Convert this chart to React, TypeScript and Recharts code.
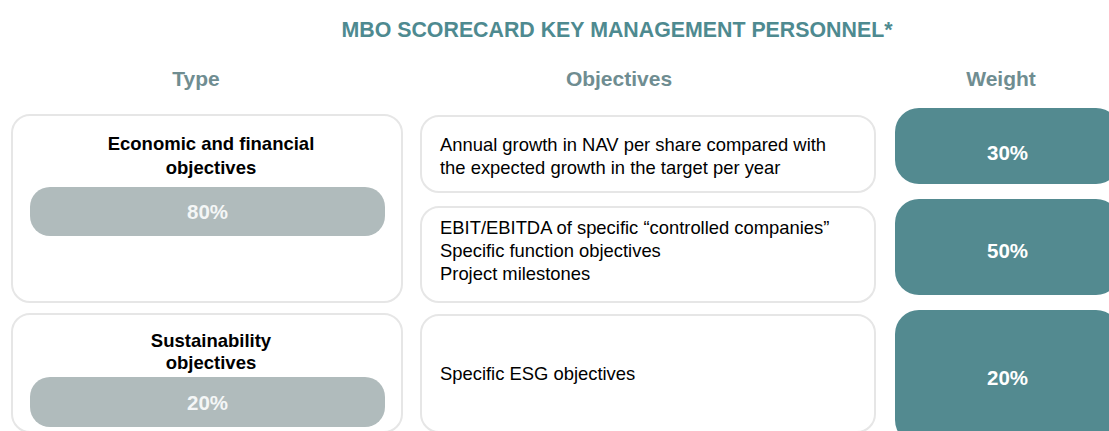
import React from 'react';
import { ScatterChart, Scatter, XAxis, YAxis, ReferenceArea, Rectangle } from 'recharts';

// ---- content ----
const title = 'MBO SCORECARD KEY MANAGEMENT PERSONNEL*';
const headers = ['Type', 'Objectives', 'Weight'];
const typeLabels = [['Economic and financial', 'objectives'], ['Sustainability', 'objectives']];
const typeShares = [80, 20];
const typeRowGroups = [[0, 1], [2]];
const objectiveLines = [
    ['Annual growth in NAV per share compared with', 'the expected growth in the target per year'],
    ['EBIT/EBITDA of specific \u201ccontrolled companies\u201d', 'Specific function objectives', 'Project milestones'],
    ['Specific ESG objectives'],
];
const weights = [30, 50, 20];

// ---- layout grid (1 unit = 1px of the slide) ----
const W = 1109;
const H = 431;
const HEAD_H = 100;
const HEADER_X = [196, 619, 1001];
const TYPE_COL = [12, 402];
const PILL_COL = [30, 385];
const OBJ_COL = [421, 875];
const WEIGHT_COL = [895, 1120];
const OBJ_ROWS = [[116, 192], [207, 302], [315, 432]];
const OBJ_TEXT_DY = [2, -4, 0];
const WEIGHT_ROWS = [[108, 184], [199, 295], [310, 444]];
const WEIGHT_TEXT_DY = [6, 3, 0];
const TYPE_TEXT_Y = [143, 340];
const TYPE_LINE_H = [24, 22];
const PILL_ROWS = [[187, 236], [377, 427]];

const FONT = '"Liberation Sans", Arial, sans-serif';
const TEAL = '#538a90';
const TITLE_TEAL = '#4e8a90';
const HEAD_GREY = '#6f8d91';
const PILL_GREY = '#b0bbbc';
const BORDER = '#e6e6e6';

// header anchor points, drawn as an invisible series so the axes get real data
const headerPoints = headers.map((h, i) => ({ x: HEADER_X[i], y: HEAD_H, name: h }));

const HeaderTick = (props: any) => {
    const { x, y, payload } = props;
    const idx = HEADER_X.indexOf(payload.value);
    return (
        <text x={x} y={y} dy={-6} textAnchor="middle" fontFamily={FONT} fontWeight="bold" fontSize={21} fill={HEAD_GREY}>
            {headers[idx]}
        </text>
    );
};

const outlineBox = (p: any) => (
    <Rectangle x={p.x} y={p.y} width={p.width} height={p.height} radius={18} fill="#ffffff" stroke={BORDER} strokeWidth={2} />
);

export default function App() {
    return (
        <div style={{ position: 'fixed', left: 0, top: 0, width: W, height: H, overflow: 'hidden', background: '#fff' }}>
            <div
                style={{
                    position: 'absolute',
                    left: 0,
                    top: 17,
                    width: 1234,
                    textAlign: 'center',
                    fontFamily: FONT,
                    fontWeight: 'bold',
                    fontSize: 21.35,
                    color: TITLE_TEAL,
                    lineHeight: '26px',
                }}
            >
                {title}
            </div>
            <ScatterChart width={W} height={H} margin={{ top: 0, right: 0, bottom: 0, left: 0 }}>
                <XAxis
                    type="number"
                    dataKey="x"
                    orientation="top"
                    height={HEAD_H}
                    domain={[0, W]}
                    ticks={HEADER_X}
                    tick={<HeaderTick />}
                    interval={0}
                    axisLine={false}
                    tickLine={false}
                    allowDataOverflow
                />
                <YAxis type="number" dataKey="y" domain={[HEAD_H, H]} reversed hide width={0} allowDataOverflow />
                <Scatter data={headerPoints} fill="none" isAnimationActive={false} shape={() => <g />} />

                {/* Type column */}
                {typeRowGroups.map((rows, g) => {
                    const top = OBJ_ROWS[rows[0]][0] - 1;
                    const bottom = OBJ_ROWS[rows[rows.length - 1]][1];
                    return (
                        <ReferenceArea
                            key={`type-${g}`}
                            x1={TYPE_COL[0]}
                            x2={TYPE_COL[1]}
                            y1={top}
                            y2={bottom}
                            ifOverflow="visible"
                            shape={(p: any) => (
                                <g>
                                    {outlineBox(p)}
                                    {typeLabels[g].map((line, li) => (
                                        <text
                                            key={li}
                                            x={p.x + p.width / 2 + 4}
                                            y={TYPE_TEXT_Y[g] + li * TYPE_LINE_H[g]}
                                            textAnchor="middle"
                                            dominantBaseline="central"
                                            fontFamily={FONT}
                                            fontWeight="bold"
                                            fontSize={18.5}
                                            fill="#000"
                                        >
                                            {line}
                                        </text>
                                    ))}
                                </g>
                            )}
                        />
                    );
                })}
                {typeShares.map((share, g) => (
                    <ReferenceArea
                        key={`pill-${g}`}
                        x1={PILL_COL[0]}
                        x2={PILL_COL[1]}
                        y1={PILL_ROWS[g][0]}
                        y2={PILL_ROWS[g][1]}
                        ifOverflow="visible"
                        shape={(p: any) => (
                            <g>
                                <Rectangle x={p.x} y={p.y} width={p.width} height={p.height} radius={20} fill={PILL_GREY} />
                                <text
                                    x={p.x + p.width / 2}
                                    y={p.y + p.height / 2}
                                    textAnchor="middle"
                                    dominantBaseline="central"
                                    fontFamily={FONT}
                                    fontWeight="bold"
                                    fontSize={20.5}
                                    fill="#f4f6f6"
                                >
                                    {`${share}%`}
                                </text>
                            </g>
                        )}
                    />
                ))}

                {/* Objectives column */}
                {objectiveLines.map((lines, i) => (
                    <ReferenceArea
                        key={`obj-${i}`}
                        x1={OBJ_COL[0]}
                        x2={OBJ_COL[1]}
                        y1={OBJ_ROWS[i][0]}
                        y2={OBJ_ROWS[i][1]}
                        ifOverflow="visible"
                        shape={(p: any) => {
                            const lh = 23;
                            const cy = p.y + p.height / 2 + OBJ_TEXT_DY[i];
                            const start = cy - ((lines.length - 1) * lh) / 2;
                            return (
                                <g>
                                    {outlineBox(p)}
                                    {lines.map((line, li) => (
                                        <text
                                            key={li}
                                            x={p.x + 19}
                                            y={start + li * lh}
                                            dominantBaseline="central"
                                            fontFamily={FONT}
                                            fontSize={18.4}
                                            fill="#000"
                                        >
                                            {line}
                                        </text>
                                    ))}
                                </g>
                            );
                        }}
                    />
                ))}

                {/* Weight column */}
                {weights.map((w, i) => (
                    <ReferenceArea
                        key={`w-${i}`}
                        x1={WEIGHT_COL[0]}
                        x2={WEIGHT_COL[1]}
                        y1={WEIGHT_ROWS[i][0]}
                        y2={WEIGHT_ROWS[i][1]}
                        ifOverflow="visible"
                        shape={(p: any) => (
                            <g>
                                <Rectangle x={p.x} y={p.y} width={p.width} height={p.height} radius={24} fill={TEAL} />
                                <text
                                    x={p.x + p.width / 2}
                                    y={p.y + p.height / 2 + WEIGHT_TEXT_DY[i]}
                                    textAnchor="middle"
                                    dominantBaseline="central"
                                    fontFamily={FONT}
                                    fontWeight="bold"
                                    fontSize={20.5}
                                    fill="#ffffff"
                                >
                                    {`${w}%`}
                                </text>
                            </g>
                        )}
                    />
                ))}
            </ScatterChart>
        </div>
    );
}
